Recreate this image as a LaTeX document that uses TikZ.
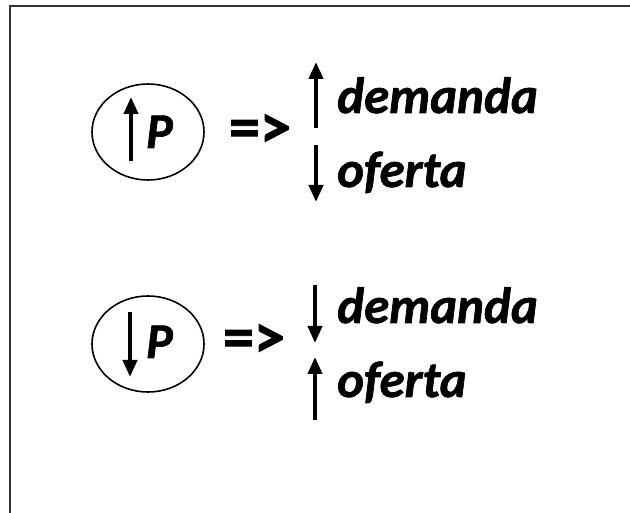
\documentclass[tikz,border=0pt]{standalone}
\usepackage{fontspec}
\setmainfont{Carlito}
\newfontfamily\heavy[FakeBold=1.3]{Carlito}
\usetikzlibrary{arrows.meta,shapes.geometric}
\begin{document}
\begin{tikzpicture}[x=1pt,y=-1pt,
  frame/.style={line width=2pt,draw=black!80},
  ell/.style={draw,ellipse,line width=1.6pt,minimum width=112pt,minimum height=96pt,inner sep=0pt},
  arr/.style={line width=4pt,-{Triangle[width=14pt,length=17pt]}},
  word/.style={font=\fontsize{51}{51}\heavy\bfseries\itshape,anchor=base west,inner sep=0pt},
  pp/.style={font=\fontsize{50}{50}\heavy\bfseries\itshape,anchor=base west,inner sep=0pt},
  impl/.style={font=\fontsize{62}{62}\heavy\bfseries,inner sep=0pt}]
\useasboundingbox (0,0) rectangle (630,513);
\fill[white] (0,0) rectangle (630,513);
\draw[frame] (10,513) -- (10,6) -- (630,6);
% block 1
\node[ell] (e1) at (148,132) {};
\coordinate (a1s) at (131,161);
\coordinate (a1e) at (131,97);
\draw[arr] (a1s) -- (a1e);
\node[pp] (p1) at (146,148) {P};
\node[impl] (i1) at (260,131) {=>};
\coordinate (u1s) at (316,128);
\coordinate (u1e) at (316,62);
\draw[arr] (u1s) -- (u1e);
\coordinate (d1s) at (316,145);
\coordinate (d1e) at (316,202);
\draw[arr] (d1s) -- (d1e);
\node[word] (dem1) at (337,113) {demanda};
\node[word] (of1) at (337,187) {oferta};
% block 2
\node[ell] (e2) at (148,344) {};
\coordinate (a2s) at (130,312);
\coordinate (a2e) at (130,377);
\draw[arr] (a2s) -- (a2e);
\node[pp] (p2) at (146,358) {P};
\node[impl] (i2) at (254,341) {=>};
\coordinate (d2s) at (315,285);
\coordinate (d2e) at (315,343);
\draw[arr] (d2s) -- (d2e);
\coordinate (u2s) at (315,420);
\coordinate (u2e) at (315,357);
\draw[arr] (u2s) -- (u2e);
\node[word] (dem2) at (337,323) {demanda};
\node[word] (of2) at (337,397) {oferta};
\end{tikzpicture}
\end{document}
